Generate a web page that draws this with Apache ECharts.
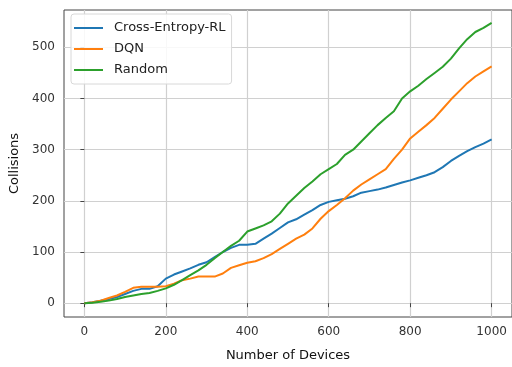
<!DOCTYPE html>
<html>
<head>
<meta charset="utf-8">
<title>Collisions</title>
<script src="https://cdn.jsdelivr.net/npm/echarts@6/dist/echarts.min.js"></script>
<style>
  html, body { margin: 0; padding: 0; background: #fff; }
  #main { width: 512px; height: 367px; }
</style>
</head>
<body>
<div id="main"></div>
<script>
// number of devices (x)
var devices = [0, 20, 40, 60, 80, 100, 120, 140, 160, 180, 200, 220, 240, 260, 280, 300, 320, 340, 360, 380,
  400, 420, 440, 460, 480, 500, 520, 540, 560, 580, 600, 620, 640, 660, 680, 700, 720, 740, 760, 780,
  800, 820, 840, 860, 880, 900, 920, 940, 960, 980, 1000];

// collisions
var crossEntropy = [0, 2, 5, 8, 12, 18, 24, 28, 28, 33, 48, 56, 62, 68, 75, 80, 90, 100, 108, 114,
  114, 116, 126, 136, 147, 158, 164, 173, 182, 192, 198, 201, 204, 209, 216, 219, 222, 226, 231, 236,
  240, 245, 250, 256, 266, 278, 288, 297, 305, 312, 320];
var dqn = [0, 2, 5, 10, 15, 22, 30, 32, 32, 32, 33, 38, 45, 48, 52, 52, 52, 58, 69, 74,
  79, 82, 88, 96, 106, 116, 126, 134, 146, 165, 180, 192, 205, 220, 232, 242, 252, 262, 282, 300,
  322, 335, 348, 362, 380, 398, 414, 430, 443, 453, 463];
var random = [0, 1, 3, 5, 8, 12, 15, 18, 20, 24, 29, 36, 45, 55, 64, 75, 88, 100, 112, 122,
  140, 146, 152, 160, 175, 195, 210, 225, 238, 252, 262, 272, 290, 300, 316, 332, 348, 362, 375, 400,
  414, 425, 438, 450, 462, 478, 498, 516, 530, 538, 548];

var xTicks = [0, 200, 400, 600, 800, 1000];
var yTicks = [0, 100, 200, 300, 400, 500];

function pairs(ys) {
  var out = [];
  for (var i = 0; i < devices.length; i++) {
    out.push([devices[i], ys[i]]);
  }
  return out;
}

var chart = echarts.init(document.getElementById('main'));

var font = 'DejaVu Sans';

chart.setOption({
  animation: false,
  textStyle: { fontFamily: font },
  grid: {
    left: 64, top: 10, width: 450.5, height: 308,
    show: true, borderColor: '#444', borderWidth: 1, backgroundColor: 'transparent'
  },
  legend: {
    orient: 'vertical',
    left: 71, top: 14,
    padding: [6, 6, 6, 3],
    itemWidth: 29, itemHeight: 2, itemGap: 5,
    icon: 'rect',
    backgroundColor: 'rgba(255,255,255,0.85)',
    borderColor: '#d8d8d8', borderWidth: 1, borderRadius: 3,
    textStyle: { fontFamily: font, fontSize: 13, color: '#222', lineHeight: 16, padding: [0, 0, 0, 6] },
    data: ['Cross-Entropy-RL', 'DQN', 'Random']
  },
  xAxis: {
    type: 'value', min: -50, max: 1050,
    name: 'Number of Devices', nameLocation: 'middle', nameGap: 32,
    nameTextStyle: { fontFamily: font, fontSize: 13, color: '#111' },
    axisLine: { show: false },
    axisTick: { show: true, length: 4, lineStyle: { color: '#444' }, customValues: xTicks },
    axisLabel: { fontFamily: font, fontSize: 12, color: '#333', margin: 9, customValues: xTicks,
      formatter: function (v) { return String(v); } },
    splitLine: { show: true, lineStyle: { color: '#d0d0d0', width: 1.2 } }
  },
  yAxis: {
    type: 'value', min: -27, max: 573,
    name: 'Collisions', nameLocation: 'middle', nameGap: 41, nameRotate: 90,
    nameTextStyle: { fontFamily: font, fontSize: 13, color: '#111' },
    axisLine: { show: false },
    axisTick: { show: true, length: 4, lineStyle: { color: '#444' }, customValues: yTicks },
    axisLabel: { fontFamily: font, fontSize: 12, color: '#333', margin: 9, customValues: yTicks,
      formatter: function (v) { return String(v); } },
    splitLine: { show: true, lineStyle: { color: '#d0d0d0', width: 1.2 } }
  },
  series: [
    { name: 'Cross-Entropy-RL', type: 'line', data: pairs(crossEntropy), showSymbol: false,
      color: '#1f77b4', lineStyle: { width: 2 } },
    { name: 'DQN', type: 'line', data: pairs(dqn), showSymbol: false,
      color: '#ff7f0e', lineStyle: { width: 2 } },
    { name: 'Random', type: 'line', data: pairs(random), showSymbol: false,
      color: '#2ca02c', lineStyle: { width: 2 } }
  ]
});
</script>
</body>
</html>
